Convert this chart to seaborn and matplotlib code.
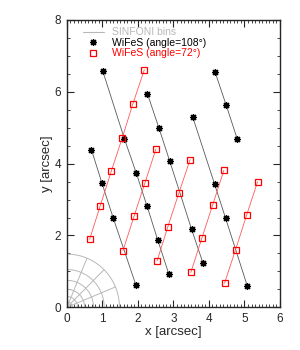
import numpy as np
import seaborn as sns
import matplotlib.pyplot as plt
from matplotlib.lines import Line2D
from matplotlib.ticker import MultipleLocator

# WiFeS strips, angle = 108 deg (black stars)
b1_x = [1.01, 1.62, 1.95, 2.26, 2.56, 2.87]
b1_y = [6.58, 4.69, 3.75, 2.81, 1.87, 0.93]
b2_x = [2.27, 2.59, 2.90, 3.51, 3.83]
b2_y = [5.94, 5.00, 4.06, 2.18, 1.24]
b3_x = [0.69, 0.99, 1.30, 1.94]
b3_y = [4.39, 3.45, 2.50, 0.63]
b4_x = [4.17, 4.49, 4.80]
b4_y = [6.56, 5.62, 4.68]
b5_x = [3.54, 4.16, 4.47, 5.08]
b5_y = [5.31, 3.43, 2.48, 0.60]

# WiFeS strips, angle = 72 deg (red squares)
r1_x = [0.64, 0.94, 1.25, 1.56, 1.86, 2.18]
r1_y = [1.89, 2.83, 3.79, 4.72, 5.67, 6.61]
r2_x = [1.58, 1.89, 2.20, 2.51]
r2_y = [1.58, 2.53, 3.47, 4.41]
r3_x = [2.54, 2.84, 3.15, 3.47]
r3_y = [1.29, 2.23, 3.17, 4.11]
r4_x = [3.49, 3.80, 4.11, 4.42]
r4_y = [0.97, 1.92, 2.86, 3.81]
r5_x = [4.44, 4.75, 5.06, 5.37]
r5_y = [0.67, 1.60, 2.56, 3.49]

# SINFONI polar bins
sinfoni_radii = [0.15, 0.3, 0.5, 0.75, 1.05, 1.48]
sinfoni_angles = [0, 22.5, 45, 67.5, 90]

labels = ["SINFONI bins", "WiFeS (angle=108°)", "WiFeS (angle=72°)"]

sns.set_style("ticks")
plt.rcParams['font.family'] = ['Liberation Sans', 'DejaVu Sans']

fig, ax = plt.subplots(figsize=(3, 3.5), dpi=100)
fig.subplots_adjust(left=0.223, right=0.933, bottom=0.122, top=0.943)

grey = "0.72"
theta = np.linspace(0, np.pi / 2, 60)
for r in sinfoni_radii:
    sns.lineplot(x=r * np.cos(theta), y=r * np.sin(theta), sort=False,
                 color=grey, lw=0.7, ax=ax)
for a in sinfoni_angles:
    t = np.deg2rad(a)
    sns.lineplot(x=[0, max(sinfoni_radii) * np.cos(t)],
                 y=[0, max(sinfoni_radii) * np.sin(t)], sort=False,
                 color=grey, lw=0.7, ax=ax)

black_strips = [(b1_x, b1_y), (b2_x, b2_y), (b3_x, b3_y), (b4_x, b4_y), (b5_x, b5_y)]
red_strips = [(r1_x, r1_y), (r2_x, r2_y), (r3_x, r3_y), (r4_x, r4_y), (r5_x, r5_y)]

star = dict(ls="none", marker=(8, 2, 0), ms=5, mew=0.9, color="black")
square = dict(ls="none", marker="s", ms=4.5, mew=0.9, mec="red", mfc="none")

for xs, ys in black_strips:
    sns.lineplot(x=xs, y=ys, sort=False, color="0.35", lw=0.6, ax=ax)
for xs, ys in red_strips:
    sns.lineplot(x=xs, y=ys, sort=False, color="#ff5a5a", lw=0.6, ax=ax)
for xs, ys in black_strips:
    ax.plot(xs, ys, **star)
for xs, ys in red_strips:
    ax.plot(xs, ys, **square)

ax.set_xlim(0, 6)
ax.set_ylim(0, 8)
ax.xaxis.set_major_locator(MultipleLocator(1))
ax.xaxis.set_minor_locator(MultipleLocator(0.1))
ax.yaxis.set_major_locator(MultipleLocator(2))
ax.yaxis.set_minor_locator(MultipleLocator(0.5))
ax.tick_params(which="both", direction="in", top=True, right=True, labelsize=8.5, pad=4)
ax.tick_params(which="major", length=5, width=0.8)
ax.tick_params(which="minor", length=2.5, width=0.6)
for sp in ax.spines.values():
    sp.set_linewidth(1.0)

ax.set_xlabel("x [arcsec]", fontsize=9.5, labelpad=1)
ax.set_ylabel("y [arcsec]", fontsize=9.5, labelpad=1)

handles = [
    Line2D([], [], color=grey, lw=0.8),
    Line2D([], [], **star),
    Line2D([], [], **square),
]
ax.legend(handles, labels, loc="upper left", frameon=False, fontsize=7.5,
          labelcolor=[grey, "black", "red"], handlelength=2.0, handletextpad=0.8,
          labelspacing=0.05, borderaxespad=0.3, bbox_to_anchor=(0.04, 1.0))

plt.savefig("out.png", dpi=100)
